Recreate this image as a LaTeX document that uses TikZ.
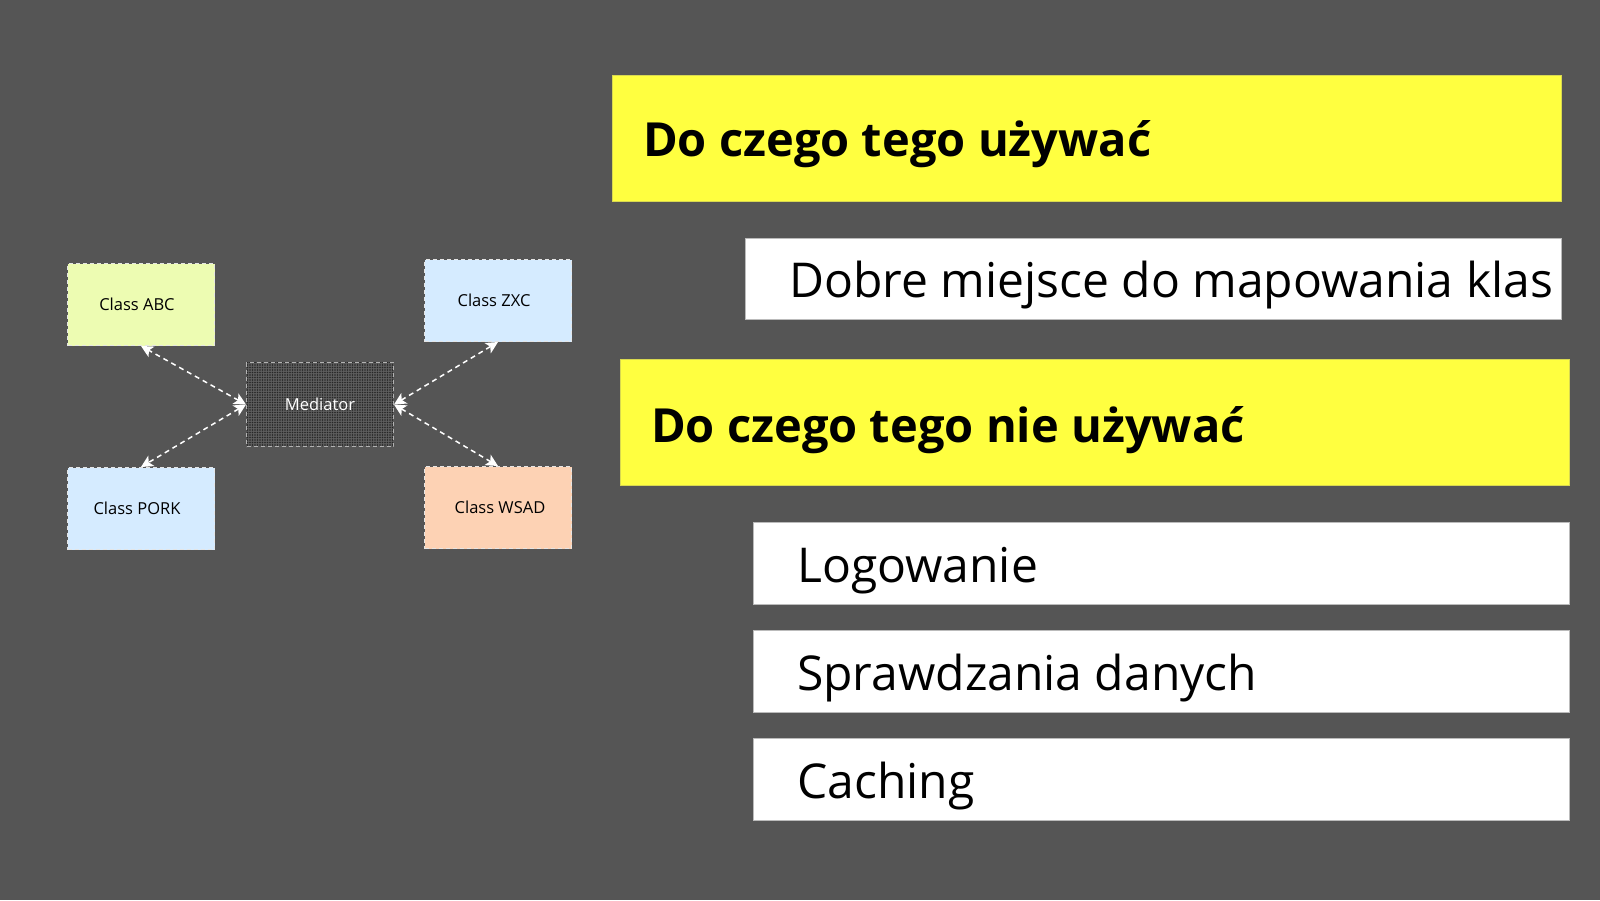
\documentclass[tikz,border=0pt]{standalone}
\usepackage{fontspec}
\setmainfont{Open Sans}
\usetikzlibrary{arrows.meta,patterns.meta}
\definecolor{bg}{HTML}{555555}
\definecolor{hy}{HTML}{FFFF40}
\definecolor{hyb}{HTML}{D8D850}
\definecolor{wb}{HTML}{BBBBBB}
\definecolor{cabc}{HTML}{EDFCB2}
\definecolor{cblue}{HTML}{D5EBFF}
\definecolor{cwsad}{HTML}{FDD2B4}
\definecolor{cmed}{HTML}{5E5E5E}
\tikzset{
  ybox/.style={draw=hyb, line width=1pt, fill=hy, anchor=north west, inner sep=0pt},
  wbox/.style={draw=wb, line width=1pt, fill=white, anchor=north west, inner sep=0pt},
  htext/.style={anchor=west, inner sep=0pt, font=\fontsize{47}{56}\selectfont\bfseries},
  btext/.style={anchor=west, inner sep=0pt, font=\fontsize{48}{58}\selectfont},
  cls/.style={draw=white!90!black, dash pattern=on 4pt off 3pt, line width=1pt, anchor=north west,
     minimum width=147pt, minimum height=82pt, inner sep=0pt, text=black},
  clabel/.style={inner sep=0pt, font=\fontsize{16.5}{20}\selectfont},
  conn/.style={draw=white, line width=1.5pt, dash pattern=on 5pt off 4pt, {Stealth[length=12pt,width=12pt,inset=3pt]}-{Stealth[length=12pt,width=12pt,inset=3pt]}},
}
\begin{document}
\begin{tikzpicture}[x=1pt,y=-1pt]
\fill[bg] (0,0) rectangle (1600,900);
\useasboundingbox (0,0) rectangle (1600,900);

% right panel
\node[ybox, minimum width=949pt, minimum height=126pt] (y1) at (612,75) {};
\node[htext] (y1t) at ([xshift=31pt,yshift=-6pt]y1.west) {Do czego tego używać};
\node[wbox, minimum width=816pt, minimum height=81pt] (w1) at (745,238) {};
\node[btext] (w1t) at ([xshift=44pt,yshift=-6pt]w1.west) {Dobre miejsce do mapowania klas};
\node[ybox, minimum width=949pt, minimum height=126pt] (y2) at (620,359) {};
\node[htext] (y2t) at ([xshift=31pt,yshift=-8pt]y2.west) {Do czego tego nie używać};
\node[wbox, minimum width=816pt, minimum height=82pt] (w2) at (753,522) {};
\node[btext] (w2t) at ([xshift=44pt,yshift=-7pt]w2.west) {Logowanie};
\node[wbox, minimum width=816pt, minimum height=82pt] (w3) at (753,630) {};
\node[btext] (w3t) at ([xshift=44pt,yshift=-7pt]w3.west) {Sprawdzania danych};
\node[wbox, minimum width=816pt, minimum height=82pt] (w4) at (753,738) {};
\node[btext] (w4t) at ([xshift=44pt,yshift=-7pt]w4.west) {Caching};

% diagram
\node[cls, fill=cabc] (abc) at (67,263) {};
\node[clabel] (abct) at ([xshift=-4pt]abc.center) {Class ABC};
\node[cls, fill=cblue] (zxc) at (424,259) {};
\node[clabel] (zxct) at ([xshift=-4pt]zxc.center) {Class ZXC};
\node[cls, fill=cblue] (pork) at (67,467) {};
\node[clabel] (porkt) at ([xshift=-4pt]pork.center) {Class PORK};
\node[cls, fill=cwsad] (wsad) at (424,466) {};
\node[clabel] (wsadt) at ([xshift=2pt]wsad.center) {Class WSAD};
\node[cls, preaction={fill=cmed}, pattern={Dots[radius=0.8pt,distance=2.5pt]}, pattern color=black!85,
      draw=white!70!black, minimum height=84pt] (med) at (246,362) {};
\node[clabel, text=white] (medt) at (med.center) {Mediator};

\draw[conn] (med.west) -- (abc.south);
\draw[conn] (med.west) -- (pork.north);
\draw[conn] (med.east) -- (zxc.south);
\draw[conn] (med.east) -- (wsad.north);
\end{tikzpicture}
\end{document}
